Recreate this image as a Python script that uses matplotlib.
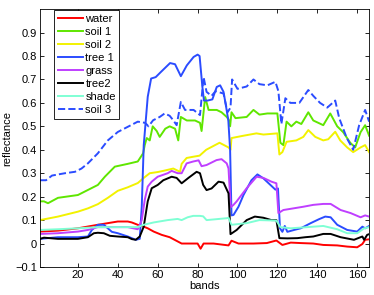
import matplotlib
matplotlib.use("Agg")
import matplotlib.pyplot as plt

plt.rcParams["font.family"] = ["Liberation Sans", "DejaVu Sans"]

# spectra at breakpoints (band, reflectance)
water_x = [1, 10, 20, 30, 35, 40, 45, 47, 50, 53, 55, 58, 62, 66, 70, 72, 75, 80, 81.5, 83, 88,
           95.5, 97, 100.5, 108, 114.7, 119.5, 122.5, 126.7, 131.7, 138, 143, 150, 155, 160, 162.6, 164, 166]
water_y = [.051, .055, .065, .08, .087, .094, .094, .09, .08, .072, .065, .051, .037, .027, .009, .0, .0, .0,
           -.022, .0, .0, -.008, .012, .0, .0, .002, .013, -.006, .004, .002, .0, -.006, -.008, -.013, -.016,
           -.002, .016, .018]

soil1_x = [1, 3, 5, 10, 20, 30, 33.5, 38.5, 45, 50, 52.7, 53.5, 54.5, 56, 57.5, 59.5, 61, 63.8, 66, 68.7,
           70.3, 71.6, 74.6, 78.7, 81.2, 82, 83.8, 85.5, 89.6, 92, 94.6, 95.5, 96.3, 97, 99, 104.6, 108, 111,
           115, 120, 121.5, 123, 124.6, 127, 129.5, 132, 135.5, 138, 143, 146.5, 150, 153, 156.5, 159, 161.7,
           164, 166]
soil1_y = [.18, .18, .172, .195, .207, .25, .285, .328, .34, .35, .385, .42, .45, .44, .50, .48, .455, .49,
           .50, .49, .44, .54, .525, .525, .515, .48, .625, .57, .57, .56, .54, .53, .50, .56, .535, .54, .57,
           .55, .555, .555, .43, .42, .52, .50, .52, .51, .56, .525, .505, .555, .50, .475, .43, .41, .475,
           .505, .46]

soil2_x = [1, 10, 20, 25, 30, 35, 40, 45, 50, 53, 56, 60, 62.8, 67.8, 71.2, 72, 74.5, 77.6, 81, 84.3, 91,
           95.5, 96.5, 97, 103, 109.5, 113, 120, 121, 122.5, 124.6, 129.5, 133, 135.5, 139, 143, 145.5, 149,
           151.5, 155, 158, 161.7, 164, 166]
soil2_y = [.10, .115, .136, .15, .168, .195, .225, .24, .258, .28, .30, .305, .31, .32, .306, .34, .365,
           .37, .375, .40, .43, .41, .40, .45, .46, .47, .465, .47, .38, .39, .434, .44, .455, .484, .455,
           .44, .445, .477, .44, .41, .39, .41, .42, .39]

tree1_x = [1, 10, 20, 25, 27, 30, 33, 37, 40, 45, 49, 51, 52, 53, 55, 56.7, 59, 61.6, 66.2, 68.7, 71.6,
           74.6, 78, 80, 81, 82.4, 83.2, 85, 87.4, 89.6, 91.3, 93, 94.3, 95.4, 96.3, 97, 98, 100.5, 103, 107,
           110, 113, 116.5, 119, 120.3, 121.3, 122.5, 123.7, 125, 128.4, 131.7, 136.7, 140.9, 144, 146.7, 150,
           155, 160, 162.6, 164, 166]
tree1_y = [.02, .027, .027, .03, .058, .08, .08, .05, .044, .03, .016, .02, .157, .42, .626, .704, .71,
           .732, .77, .765, .714, .76, .796, .806, .80, .668, .61, .61, .615, .668, .675, .647, .583, .526,
           .40, .12, .122, .157, .207, .27, .295, .278, .25, .23, .235, .065, .05, .075, .05, .058, .065,
           .087, .104, .115, .112, .08, .058, .051, .072, .065, .075]

grass_x = [1, 10, 20, 25, 30, 40, 45, 50, 52, 53.5, 55, 57, 60, 65, 67, 70, 72, 74.5, 77.8, 80.5, 82,
           84.5, 89.5, 92, 94.6, 95.5, 96.6, 98, 99.6, 104.6, 109.6, 113, 117, 119.5, 120.5, 123, 128, 133,
           138, 143, 146.7, 151.7, 156.7, 161.7, 164, 166]
grass_y = [.041, .044, .051, .058, .07, .07, .07, .061, .10, .186, .243, .264, .285, .30, .31, .30, .30,
           .342, .35, .355, .33, .335, .356, .36, .342, .32, .155, .165, .18, .236, .285, .28, .264, .257,
           .13, .143, .15, .157, .165, .169, .169, .143, .13, .112, .12, .115]

tree2_x = [1, 3, 10, 20, 25, 28, 30, 33, 36, 40, 45, 47, 49, 51, 53, 55, 57, 60, 62.8, 67, 69.5, 72,
           75.4, 79.5, 81.2, 82.8, 84.5, 87, 90.5, 93, 95.5, 96.5, 99.6, 104.6, 108.7, 113, 117, 119.5, 121,
           125, 130, 134, 138, 143, 146.7, 151.7, 158.4, 162.6, 163.5, 165, 166]
tree2_y = [.02, .025, .02, .02, .027, .044, .046, .044, .033, .03, .027, .019, .016, .03, .072, .18, .236,
           .25, .27, .285, .28, .257, .28, .306, .30, .25, .228, .235, .264, .26, .214, .04, .058, .10, .115,
           .11, .10, .10, .023, .022, .023, .027, .03, .041, .041, .027, .016, .03, .016, .037, .04]

shade_x = [1, 10, 20, 30, 40, 50, 53, 58, 65, 70, 72, 75, 77.8, 81.2, 82.8, 84.5, 94.6, 95.5, 97, 104.6,
           111, 119.5, 121.5, 126.7, 135, 143, 150, 155, 160, 163.5, 166]
shade_y = [.058, .061, .065, .07, .07, .07, .08, .09, .10, .105, .10, .112, .118, .118, .116, .10, .108,
           .11, .08, .087, .10, .098, .07, .065, .07, .075, .061, .044, .044, .065, .07]

soil3_x = [1, 4, 7, 13.5, 18.5, 21.8, 25, 30, 35, 40, 45, 50, 53.7, 55.4, 57.7, 61, 63.5, 66, 67.8, 69.5,
           71.6, 73.7, 78, 81.2, 83, 84.5, 87, 89, 93, 95, 96.5, 97.3, 100, 104.6, 108, 111, 115, 119, 120.5,
           122, 124, 126.5, 131, 135.5, 138, 141.4, 145, 149, 151, 154.8, 158, 161, 164, 166]
soil3_y = [.27, .27, .29, .30, .306, .32, .342, .385, .44, .476, .498, .52, .515, .50, .526, .54, .555,
           .545, .526, .505, .604, .57, .57, .548, .71, .647, .63, .65, .64, .56, .58, .70, .66, .67, .70,
           .68, .675, .69, .65, .51, .62, .60, .60, .655, .63, .60, .58, .61, .535, .45, .40, .505, .57, .52]

series = [
    ("water", water_x, water_y, "#ff0000", "-"),
    ("soil 1", soil1_x, soil1_y, "#5fe600", "-"),
    ("soil 2", soil2_x, soil2_y, "#f2f200", "-"),
    ("tree 1", tree1_x, tree1_y, "#2b4cff", "-"),
    ("grass", grass_x, grass_y, "#bf3fff", "-"),
    ("tree2", tree2_x, tree2_y, "#000000", "-"),
    ("shade", shade_x, shade_y, "#7fffd4", "-"),
    ("soil 3", soil3_x, soil3_y, "#2b4cff", "--"),
]

fig = plt.figure(figsize=(3.74, 2.95), dpi=100)
ax = fig.add_axes([0.107, 0.095, 0.880, 0.874])

for name, xs, ys, color, style in series:
    ax.plot(xs, ys, style, color=color, lw=1.4, label=name)

ax.set_xlim(1, 166)
ax.set_ylim(-0.1, 1.0)
ax.set_xticks(range(20, 161, 20))
ax.set_yticks([-0.1, 0, 0.1, 0.2, 0.3, 0.4, 0.5, 0.6, 0.7, 0.8, 0.9])
ax.set_yticklabels(["\u22120.1", "0", "0.1", "0.2", "0.3", "0.4", "0.5", "0.6", "0.7", "0.8", "0.9"])
ax.tick_params(direction="in", top=True, right=True, labelsize=8, length=3, width=0.6, pad=2)
for sp in ax.spines.values():
    sp.set_linewidth(0.6)

ax.set_xlabel("bands", fontsize=8, labelpad=1)
ax.set_ylabel("reflectance", fontsize=8, labelpad=2)

leg = ax.legend(loc="upper left", bbox_to_anchor=(0.04, 1.0), fontsize=8, frameon=True,
                fancybox=False, edgecolor="black", framealpha=1, borderaxespad=0.1,
                handlelength=2.3, handletextpad=0.2, labelspacing=0.28, borderpad=0.3)
leg.get_frame().set_linewidth(0.6)

fig.savefig("out.png", dpi=100)
